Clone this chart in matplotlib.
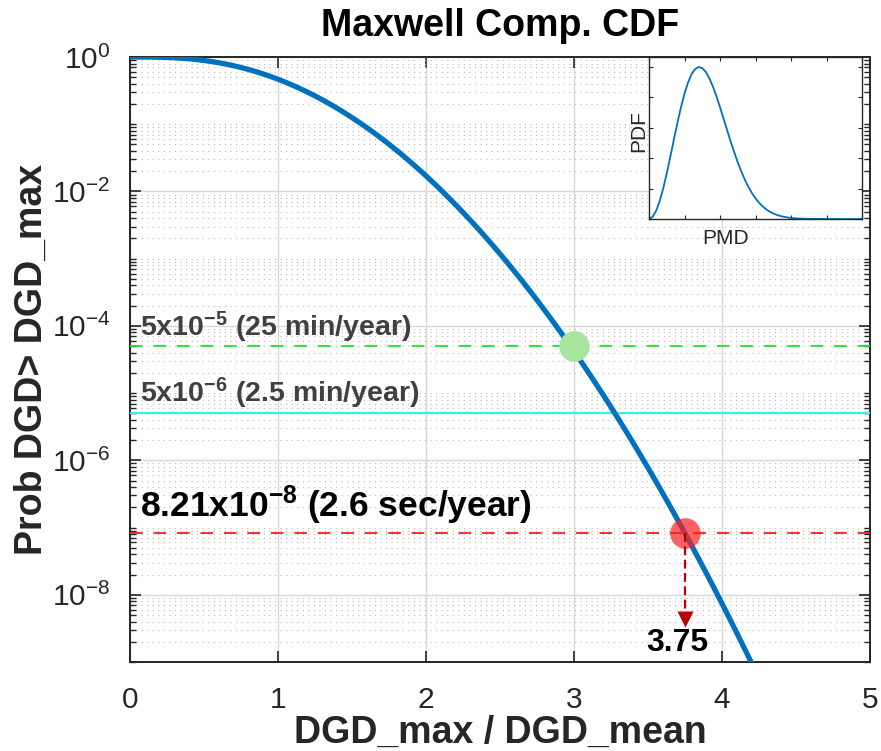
import numpy as np
import matplotlib
matplotlib.use("Agg")
import matplotlib.pyplot as plt
from matplotlib.ticker import FixedLocator, LogLocator, LogFormatterSciNotation, NullFormatter

plt.rcParams['font.family'] = ['Liberation Sans', 'DejaVu Sans']
plt.rcParams['mathtext.fontset'] = 'custom'
plt.rcParams['mathtext.rm'] = 'Liberation Sans'
plt.rcParams['mathtext.it'] = 'Liberation Sans:italic'
plt.rcParams['mathtext.bf'] = 'Liberation Sans:bold'

# ---- data: Maxwell complementary CDF ----
dgd_ratio = [0.00, 0.05, 0.10, 0.15, 0.20, 0.25, 0.30, 0.35, 0.40, 0.45,
             0.50, 0.55, 0.60, 0.65, 0.70, 0.75, 0.80, 0.85, 0.90, 0.95,
             1.00, 1.05, 1.10, 1.15, 1.20, 1.25, 1.30, 1.35, 1.40, 1.45,
             1.50, 1.55, 1.60, 1.65, 1.70, 1.75, 1.80, 1.85, 1.90, 1.95,
             2.00, 2.05, 2.10, 2.15, 2.20, 2.25, 2.30, 2.35, 2.40, 2.45,
             2.50, 2.55, 2.60, 2.65, 2.70, 2.75, 2.80, 2.85, 2.90, 2.95,
             3.00, 3.05, 3.10, 3.15, 3.20, 3.25, 3.30, 3.35, 3.40, 3.45,
             3.50, 3.55, 3.60, 3.65, 3.70, 3.75, 3.80, 3.85, 3.90, 3.95,
             4.00, 4.05, 4.10, 4.15, 4.20, 4.25]
prob_exceed = [1, 0.9999, 0.9989, 0.9964, 0.9916, 0.9839, 0.9727, 0.9578, 0.9387, 0.9154,
               0.888, 0.8566, 0.8214, 0.7829, 0.7416, 0.698, 0.6527, 0.6063, 0.5595, 0.5129,
               0.4669, 0.4223, 0.3793, 0.3383, 0.2997, 0.2638, 0.2305, 0.2001, 0.1725, 0.1476,
               0.1255, 0.106, 0.08892, 0.07407, 0.06129, 0.05036, 0.04111, 0.03333, 0.02683, 0.02146,
               0.01705, 0.01345, 0.01055, 0.00821, 0.006349, 0.004877, 0.003721, 0.002821, 0.002124, 0.001588,
               0.00118, 0.000871, 0.0006385, 0.0004651, 0.0003365, 0.0002418, 0.0001727, 0.0001225, 8.628e-05, 6.04e-05,
               4.2e-05, 2.901e-05, 1.991e-05, 1.357e-05, 9.195e-06, 6.187e-06, 4.136e-06, 2.747e-06, 1.812e-06, 1.188e-06,
               7.736e-07, 5.005e-07, 3.217e-07, 2.054e-07, 1.303e-07, 8.215e-08, 5.144e-08, 3.2e-08, 1.978e-08, 1.215e-08,
               7.411e-09, 4.492e-09, 2.705e-09, 1.619e-09, 9.623e-10, 5.683e-10]

# inset: Maxwell PDF
pmd = [0.0, 0.1, 0.2, 0.3, 0.4, 0.5, 0.6, 0.7, 0.8, 0.9,
       1.0, 1.1, 1.2, 1.3, 1.4, 1.5, 1.6, 1.7, 1.8, 1.9,
       2.0, 2.1, 2.2, 2.3, 2.4, 2.5, 2.6, 2.7, 2.8, 2.9,
       3.0, 3.1, 3.2, 3.3, 3.4, 3.5, 3.6, 3.7, 3.8, 3.9,
       4.0, 4.1, 4.2, 4.3, 4.4, 4.5, 4.6, 4.7, 4.8, 4.9,
       5.0, 5.1, 5.2, 5.3, 5.4, 5.5, 5.6, 5.7, 5.8, 5.9, 6.0]
pdf = [0, 0.007939, 0.03128, 0.06865, 0.1178, 0.176, 0.2399, 0.306, 0.3708, 0.4311,
       0.4839, 0.5272, 0.5593, 0.5792, 0.5869, 0.5828, 0.5679, 0.5436, 0.5116, 0.4737,
       0.4319, 0.3879, 0.3434, 0.2997, 0.258, 0.2191, 0.1836, 0.1519, 0.1241, 0.1001,
       0.07977, 0.06279, 0.04883, 0.03752, 0.02849, 0.02138, 0.01586, 0.01163, 0.008431, 0.006043,
       0.004283, 0.003001, 0.00208, 0.001425, 0.0009658, 0.0006473, 0.0004292, 0.0002814, 0.0001825, 0.0001171,
       7.434e-05, 4.667e-05, 2.899e-05, 1.782e-05, 1.083e-05, 6.516e-06, 3.878e-06, 2.283e-06, 1.33e-06, 7.669e-07, 4.375e-07]

# thresholds
thr_green = 5e-5
thr_cyan = 5e-6
thr_red = 8.21e-8
x_green = 3.0
x_red = 3.75
arrow_end = 5e-9
arrow_tip = 4.3e-9
x_ticks = [0, 1, 2, 3, 4, 5]
y_ticks = [1e0, 1e-2, 1e-4, 1e-6, 1e-8]

W, H = 881, 751
fig = plt.figure(figsize=(W/100, H/100), dpi=100)
ax = fig.add_axes([130/W, 1-662/H, 740/W, 605/H])
ax.set_yscale('log')
ax.set_xlim(0, 5)
ax.set_ylim(1e-9, 1)

tc = '#262626'
ax.axhline(thr_green, color='#22e022', lw=1.3, ls=(0, (7, 6)), zorder=3)
ax.axhline(thr_cyan, color='#30f0f0', lw=1.6, zorder=3)
ax.axhline(thr_red, color='#ff1a1a', lw=1.3, ls=(0, (7, 6)), zorder=3)
ax.plot(dgd_ratio, prob_exceed, color='#0072BD', lw=3.8, zorder=4, solid_capstyle='butt')
ax.plot([x_green], [thr_green], 'o', ms=22, color='#a8e6a0', mec='none', zorder=5)
ax.plot([x_red], [thr_red], 'o', ms=22, color='#ff2020', alpha=0.7, mec='none', zorder=5)
ax.plot([x_red, x_red], [thr_red, arrow_end], color='#c00000', lw=1.6, ls=(0, (4, 2)), zorder=6)
ax.plot([x_red], [arrow_tip], 'v', ms=12, color='#c00000', mec='none', zorder=6)
ax.text(3.70, 1.95e-9, '3.75', fontsize=23, fontweight='bold', color='black',
        ha='center', va='center', zorder=7)

ax.text(0.068, 6.9e-5, r'5x$\mathbf{10^{-5}}$ (25 min/year)', fontsize=20.5,
        fontweight='bold', color='#404040', zorder=7)
ax.text(0.068, 7.4e-6, r'5x$\mathbf{10^{-6}}$ (2.5 min/year)', fontsize=20.5,
        fontweight='bold', color='#404040', zorder=7)
ax.text(0.068, 1.44e-7, r'8.21x$\mathbf{10^{-8}}$ (2.6 sec/year)', fontsize=25.5,
        fontweight='bold', color='black', zorder=7)

ax.yaxis.set_major_locator(FixedLocator(y_ticks))
ax.yaxis.set_major_formatter(LogFormatterSciNotation())
ax.yaxis.set_minor_locator(LogLocator(base=10, subs=np.arange(1, 10)*1.0, numticks=100))
ax.yaxis.set_minor_formatter(NullFormatter())
ax.set_xticks(x_ticks)
ax.tick_params(which='both', direction='in', top=True, right=True, colors=tc, labelsize=21.5)
ax.tick_params(which='major', length=8, width=1.2)
ax.tick_params(which='minor', length=4, width=1.0)
ax.tick_params(axis='x', pad=17)
ax.tick_params(axis='y', pad=14)
ax.grid(True, which='major', color='#d8d8d8', lw=1.0, ls='-')
ax.grid(True, which='minor', axis='y', color='#b8b8b8', lw=0.8, ls=(0, (1, 4)))
ax.set_axisbelow(True)
for s in ax.spines.values():
    s.set_color(tc)
    s.set_linewidth(1.4)

ax.set_title('Maxwell Comp. CDF', fontsize=27, fontweight='bold', color='black', pad=15)
ax.set_xlabel('DGD_max / DGD_mean', fontsize=27, fontweight='bold', color=tc)
ax.xaxis.set_label_coords(0.5, -0.088)
ax.set_ylabel('Prob DGD> DGD_max', fontsize=27, fontweight='bold', color=tc)
ax.yaxis.set_label_coords(-0.108, 0.5)

ins = fig.add_axes([649/W, 1-219/H, 213/W, 162/H])
ins.plot(pmd, pdf, color='#0072BD', lw=1.3)
ins.set_xlim(0, 6)
pk = max(pdf)
ins.set_ylim(0, pk*1.066)
ins.set_xticks([0, 1, 2, 3, 4, 5, 6])
ins.set_yticks(list(np.linspace(0, pk, 6)))
ins.tick_params(which='both', direction='in', top=True, right=True, length=3, width=0.8,
                labelbottom=False, labelleft=False, colors=tc)
for s in ins.spines.values():
    s.set_color(tc)
    s.set_linewidth(1.0)
ins.set_xlabel('PMD', fontsize=15, color=tc)
ins.xaxis.set_label_coords(0.36, -0.062)
ins.set_ylabel('PDF', fontsize=15, color=tc)
ins.yaxis.set_label_coords(-0.005, 0.543)

fig.savefig("out.png", dpi=100)
